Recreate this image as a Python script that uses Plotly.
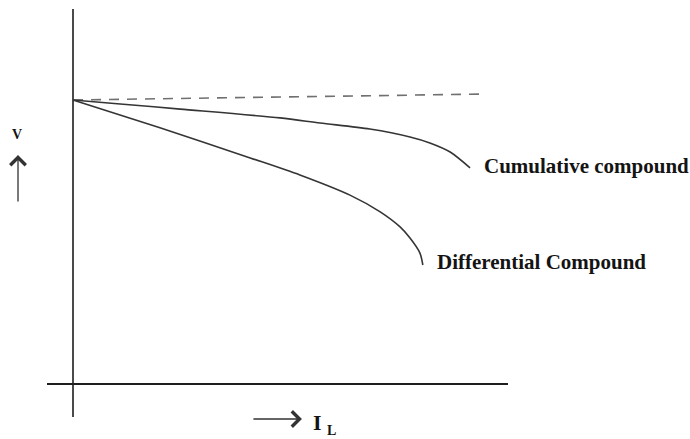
import plotly.graph_objects as go

# Load current I_L (arbitrary units) and terminal voltage V (no-load = 100)
no_load_I = [0, 100]
no_load_V = [100, 102.1]

cumulative_I = [0, 11.4, 25.9, 50.0, 59.7, 71.7, 81.4, 86.2, 91.1, 95.9]
cumulative_V = [100, 98.6, 96.8, 93.7, 91.9, 89.8, 87.0, 84.9, 81.7, 76.1]

differential_I = [0, 21.0, 42.8, 54.8, 66.9, 74.2, 79.0, 81.4, 83.8, 84.5]
differential_V = [100, 90.2, 79.6, 73.6, 66.5, 60.6, 55.3, 51.4, 46.1, 41.9]

curve_labels = ["Cumulative compound", "Differential Compound"]
y_label = "V"
x_label = "I"
x_label_sub = "L"

SERIF = "Liberation Serif"
TEXT = "#141414"

fig = go.Figure()
fig.add_trace(go.Scatter(x=no_load_I, y=no_load_V, mode="lines",
                         line=dict(color="#707070", width=1.6, dash="10px,8px"),
                         hoverinfo="skip"))
fig.add_trace(go.Scatter(x=cumulative_I, y=cumulative_V, mode="lines",
                         line=dict(color="#353535", width=1.6, shape="spline", smoothing=0.8),
                         hoverinfo="skip"))
fig.add_trace(go.Scatter(x=differential_I, y=differential_V, mode="lines",
                         line=dict(color="#353535", width=1.6, shape="spline", smoothing=0.8),
                         hoverinfo="skip"))

annotations = [
    dict(x=cumulative_I[-1] + 3.0, y=cumulative_V[-1] + 0.5, xref="x", yref="y",
         text="<b>" + curve_labels[0] + "</b>", showarrow=False,
         xanchor="left", yanchor="middle",
         font=dict(family=SERIF, size=21, color=TEXT)),
    dict(x=differential_I[-1] + 3.0, y=differential_V[-1] + 0.9, xref="x", yref="y",
         text="<b>" + curve_labels[1] + "</b>", showarrow=False,
         xanchor="left", yanchor="middle",
         font=dict(family=SERIF, size=21, color=TEXT)),
    dict(x=-0.0651, y=0.692, xref="paper", yref="paper",
         text="<b>" + y_label + "</b>", showarrow=False,
         xanchor="center", yanchor="middle",
         font=dict(family=SERIF, size=14, color=TEXT)),
    # up arrow next to V
    dict(x=-0.0629, y=0.642, xref="paper", yref="paper", text="",
         showarrow=True, ax=0, ay=48, arrowhead=4, arrowsize=2.3,
         arrowwidth=1.3, arrowcolor="#333333", standoff=0),
    # right arrow before I_L
    dict(x=0.553, y=-0.0049, xref="paper", yref="paper", text="",
         showarrow=True, ax=-50, ay=0, arrowhead=4, arrowsize=2.3,
         arrowwidth=1.3, arrowcolor="#333333", standoff=0),
    dict(x=0.5857, y=-0.0147, xref="paper", yref="paper",
         text="<b>" + x_label + "</b>", showarrow=False,
         xanchor="center", yanchor="middle",
         font=dict(family=SERIF, size=22, color=TEXT)),
    dict(x=0.618, y=-0.0539, xref="paper", yref="paper",
         text="<b>" + x_label_sub + "</b>", showarrow=False,
         xanchor="center", yanchor="bottom", borderpad=0,
         font=dict(family=SERIF, size=14, color=TEXT)),
]

fig.update_layout(
    width=690, height=439,
    margin=dict(l=47, r=182, t=9, b=22),
    paper_bgcolor="white", plot_bgcolor="white",
    showlegend=False,
    annotations=annotations,
    xaxis=dict(range=[-6.28, 105.07], showgrid=False, showticklabels=False,
               ticks="", zeroline=True, zerolinecolor="#4a4a4a", zerolinewidth=2,
               showline=False, fixedrange=True),
    yaxis=dict(range=[-11.62, 132.04], showgrid=False, showticklabels=False,
               ticks="", zeroline=True, zerolinecolor="#1e1e1e", zerolinewidth=1.6,
               showline=False, fixedrange=True),
)

fig.write_html("out.html", config={"displayModeBar": False},
               post_script="document.body.style.margin='0px';document.body.style.overflow='hidden';")
